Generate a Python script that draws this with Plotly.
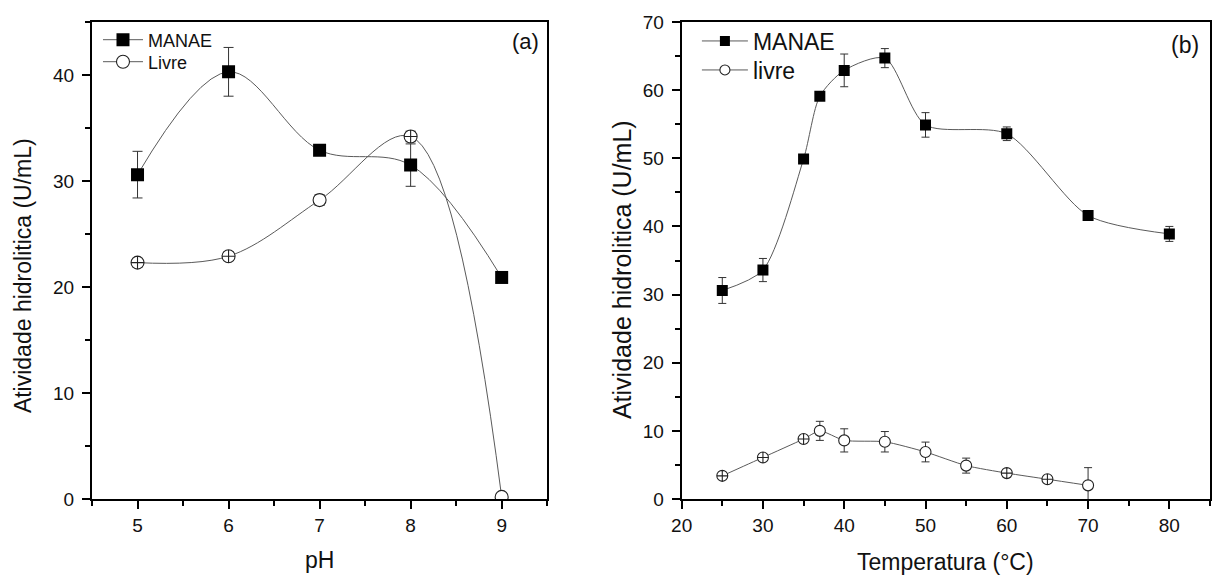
import plotly.graph_objects as go

# ---- Panel (a): pH ----
ph = [5, 6, 7, 8, 9]
manae_ph = [30.6, 40.3, 32.9, 31.5, 20.9]
manae_ph_err = [2.2, 2.3, 0.5, 2.0, 0.3]
livre_ph = [22.3, 22.9, 28.2, 34.2, 0.2]
livre_ph_err = [0.4, 0.4, 0.5, 0.5, 0.2]

# ---- Panel (b): temperature ----
temp_manae = [25, 30, 35, 37, 40, 45, 50, 60, 70, 80]
manae_t = [30.6, 33.6, 49.9, 59.1, 62.9, 64.7, 54.9, 53.6, 41.6, 38.9]
manae_t_err = [1.9, 1.7, 0.5, 0.5, 2.4, 1.4, 1.8, 1.0, 0.5, 1.1]
temp_livre = [25, 30, 35, 37, 40, 45, 50, 55, 60, 65, 70]
livre_t = [3.4, 6.1, 8.8, 10.0, 8.6, 8.4, 6.9, 4.9, 3.8, 2.9, 2.0]
livre_t_err = [0.4, 0.4, 0.4, 1.4, 1.7, 1.5, 1.45, 1.1, 0.5, 0.4, 2.6]

ph_ticks = [5, 6, 7, 8, 9]
temp_ticks = [20, 30, 40, 50, 60, 70, 80]

FONT = "Liberation Sans, Arial, sans-serif"
LINE_C = "#5a5a5a"
ERR_C = "#333333"

# per-point symbols (small error bars show through the open circles in the original)
sym_livre_ph = ["circle-cross", "circle-cross", "circle", "circle-cross", "circle"]
sym_livre_t = ["circle-cross", "circle-cross", "circle-cross", "circle", "circle", "circle",
               "circle", "circle", "circle-cross", "circle-cross", "circle"]

fig = go.Figure()

# data traces (legend entries are drawn by the legend-only traces below)
fig.add_trace(go.Scatter(
    x=ph, y=manae_ph, name="MANAE", mode="lines+markers", showlegend=False,
    line=dict(shape="spline", smoothing=1, color=LINE_C, width=1),
    marker=dict(symbol="square", size=13, color="black", line=dict(width=0)),
    error_y=dict(type="data", array=manae_ph_err, color=ERR_C, thickness=1, width=5),
    xaxis="x", yaxis="y"))
fig.add_trace(go.Scatter(
    x=ph, y=livre_ph, name="Livre", mode="lines+markers", showlegend=False,
    line=dict(shape="spline", smoothing=1, color=LINE_C, width=1),
    marker=dict(symbol=sym_livre_ph, size=13, color="white", line=dict(width=1.1, color="#222")),
    error_y=dict(type="data", array=livre_ph_err, color=ERR_C, thickness=1, width=5),
    xaxis="x", yaxis="y"))
fig.add_trace(go.Scatter(
    x=temp_manae, y=manae_t, name="MANAE", mode="lines+markers", showlegend=False,
    line=dict(shape="spline", smoothing=0.75, color=LINE_C, width=1),
    marker=dict(symbol="square", size=11, color="black", line=dict(width=0)),
    error_y=dict(type="data", array=manae_t_err, color=ERR_C, thickness=1, width=4),
    xaxis="x2", yaxis="y2"))
fig.add_trace(go.Scatter(
    x=temp_livre, y=livre_t, name="livre", mode="lines+markers", showlegend=False,
    line=dict(shape="spline", smoothing=0.6, color=LINE_C, width=1),
    marker=dict(symbol=sym_livre_t, size=11, color="white", line=dict(width=1.1, color="#222")),
    error_y=dict(type="data", array=livre_t_err, color=ERR_C, thickness=1, width=4),
    xaxis="x2", yaxis="y2"))

# legend-only entries, one legend box each so rows can be placed like the original
legend_items = [
    ("MANAE", "square", "black", 13, "x", "y", "legend"),
    ("Livre", "circle", "white", 13, "x", "y", "legend3"),
    ("MANAE", "square", "black", 10, "x2", "y2", "legend2"),
    ("livre", "circle", "white", 10, "x2", "y2", "legend4"),
]
for name, sym, col, sz, xa, ya, lg in legend_items:
    fig.add_trace(go.Scatter(
        x=[None], y=[None], name=name, mode="lines+markers", showlegend=True,
        line=dict(color=LINE_C, width=1),
        marker=dict(symbol=sym, size=sz, color=col, line=dict(width=1.1 if col == "white" else 0, color="#222")),
        xaxis=xa, yaxis=ya, legend=lg))

L, R, T, B = 92, 2, 22, 76
W, H = 1214, 575
pw = W - L - R
ph_h = H - T - B

def px(xp):
    return (xp - L) / pw

def py(yp):
    return (H - B - yp) / ph_h

def axis_common():
    return dict(
        showgrid=False, zeroline=False, showline=True, linecolor="black", linewidth=2,
        mirror=True, ticks="outside", ticklen=8, tickwidth=1.5, tickcolor="black",
        tickfont=dict(family=FONT, size=19, color="#111"),
    )

def minor(d):
    return dict(ticks="outside", ticklen=5, tickwidth=1.5, tickcolor="black", showgrid=False, dtick=d)

def leg(x, y, size, iw):
    return dict(x=px(x), y=py(y), xanchor="left", yanchor="middle",
                font=dict(family=FONT, size=size, color="#111"),
                bgcolor="rgba(0,0,0,0)", borderwidth=0, itemwidth=iw)

fig.update_layout(
    width=W, height=H,
    margin=dict(l=L, r=R, t=T, b=B),
    paper_bgcolor="white", plot_bgcolor="white",
    font=dict(family=FONT, color="#111"),
    xaxis=dict(domain=[0, px(548)], range=[4.5, 9.5], tickmode="array", tickvals=ph_ticks,
               anchor="y", minor=minor(0.5), **axis_common()),
    yaxis=dict(domain=[0, 1], range=[0, 45], dtick=10, tick0=0, anchor="x",
               ticklabelstandoff=4, minor=minor(5), **axis_common()),
    xaxis2=dict(domain=[px(682.7), 1], range=[20, 85], tickmode="array", tickvals=temp_ticks,
                anchor="y2", minor=minor(5), **axis_common()),
    yaxis2=dict(domain=[0, 1], range=[0, 70], dtick=10, tick0=0, anchor="x2",
                ticklabelstandoff=4, minor=minor(5), **axis_common()),
    legend=leg(98, 40, 18, 40),
    legend3=leg(98, 62, 18, 40),
    legend2=leg(698, 41, 23, 46),
    legend4=leg(698, 70, 23, 46),
    showlegend=True,
)

annotations = [
    dict(text="(a)", x=px(526), y=py(42), font=dict(size=22)),
    dict(text="(b)", x=px(1187), y=py(45), font=dict(size=23)),
    dict(text="pH", x=px(320), y=py(560), font=dict(size=23)),
    dict(text="Temperatura (°C)", x=px(947), y=py(562), font=dict(size=23)),
    dict(text="Atividade hidrolitica (U/mL)", x=px(23), y=py(276), textangle=-90, font=dict(size=23)),
    dict(text="Atividade hidrolitica (U/mL)", x=px(623), y=py(270), textangle=-90, font=dict(size=25)),
]
for a in annotations:
    a["font"]["family"] = FONT
    a["font"]["color"] = "#111"
    fig.add_annotation(xref="paper", yref="paper", showarrow=False,
                       xanchor="center", yanchor="middle", **a)

fig.write_html("out.html")
